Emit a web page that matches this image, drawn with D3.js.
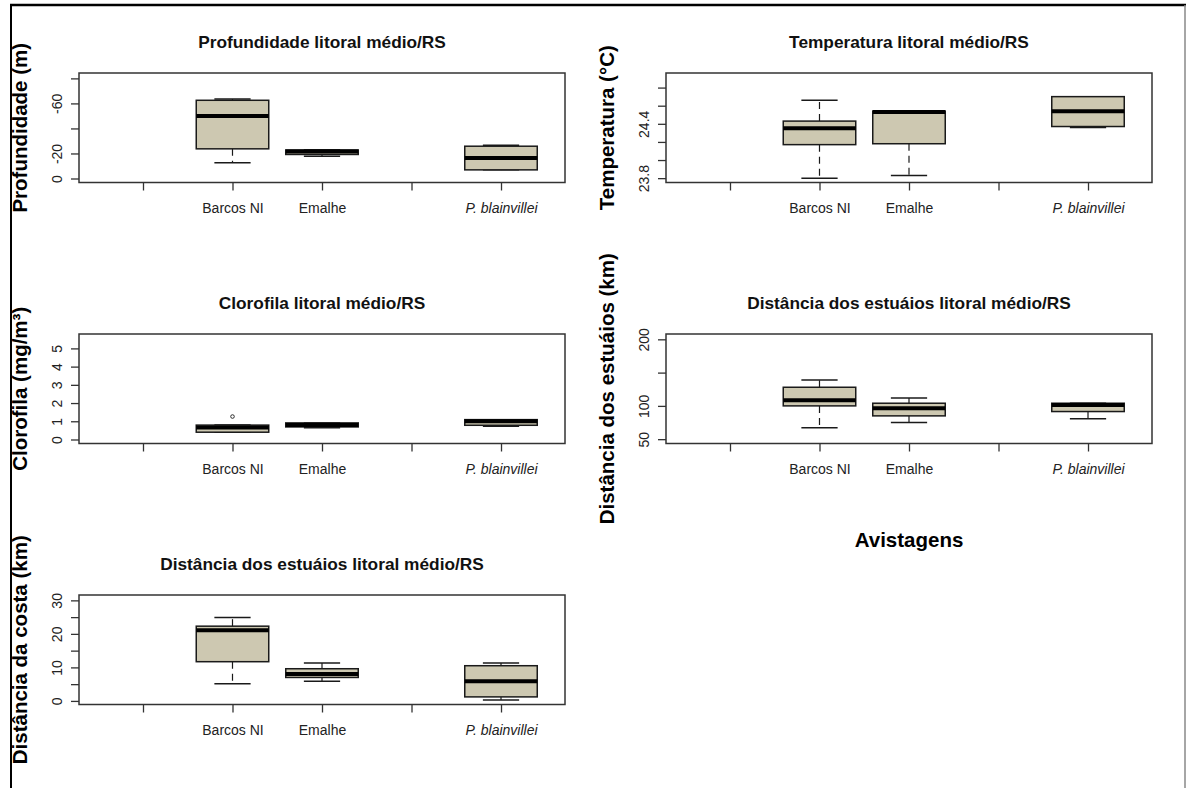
<!DOCTYPE html>
<html>
<head>
<meta charset="utf-8">
<script src="https://cdn.jsdelivr.net/npm/d3@7"></script>
<style>
  html, body { margin: 0; padding: 0; background: #fff; }
  svg { display: block; font-family: "Liberation Sans", Arial, sans-serif; }
</style>
</head>
<body>
<svg id="chart" width="1186" height="788"></svg>
<script>
// ---------- DATA ----------
const categories = ["", "Barcos NI", "Emalhe", "", "P. blainvillei"];
const italicCategories = ["P. blainvillei"];
const groups = ["Barcos NI", "Emalhe", "P. blainvillei"];

// five-number summaries per group: [lower whisker, Q1, median, Q3, upper whisker]
const profundidade = [
  [-63.5, -62.5, -50.0, -23.7, -12.5],
  [-23.0, -22.8, -21.6, -19.2, -17.8],
  [-26.6, -25.8, -16.3, -6.9, -6.9]
];
const temperatura = [
  [23.80, 24.17, 24.35, 24.43, 24.66],
  [23.83, 24.18, 24.53, 24.54, 24.54],
  [24.36, 24.37, 24.54, 24.70, 24.70]
];
const clorofila = [
  [0.40, 0.40, 0.66, 0.79, 0.79],
  [0.64, 0.69, 0.80, 0.91, 0.91],
  [0.73, 0.78, 1.00, 1.09, 1.09]
];
const clorofilaOutliers = [[1.26], [], []];
const estuarios = [
  [67.0, 100.0, 108.5, 128.0, 139.0],
  [75.0, 85.0, 96.5, 104.0, 112.0],
  [80.6, 91.5, 101.5, 104.0, 104.0]
];
const costa = [
  [5.1, 11.7, 21.1, 22.3, 24.9],
  [5.9, 7.0, 8.0, 9.6, 11.3],
  [0.3, 1.2, 5.9, 10.5, 11.3]
];

const profTicks = [0, -20, -40, -60, -80];
const profTickLabels = ["0", "-20", "", "-60", ""];
const tempTicks = [23.8, 24.0, 24.2, 24.4, 24.6, 24.8];
const tempTickLabels = ["23.8", "", "", "24.4", "", ""];
const cloroTicks = [0, 1, 2, 3, 4, 5];
const cloroTickLabels = ["0", "1", "2", "3", "4", "5"];
const estTicks = [50, 100, 150, 200];
const estTickLabels = ["50", "100", "", "200"];
const costaTicks = [0, 5, 10, 15, 20, 25, 30];
const costaTickLabels = ["0", "", "10", "", "20", "", "30"];

const profLim = [3.2, -84.3];
const tempLim = [23.752, 24.961];
const cloroLim = [-0.22, 5.79];
const estLim = [43.5, 208];
const costaLim = [-1.07, 31.6];
const xLim = [0.285, 5.715];

const titles = [
  "Profundidade litoral médio/RS",
  "Temperatura litoral médio/RS",
  "Clorofila litoral médio/RS",
  "Distância dos estuáios litoral médio/RS",
  "Distância dos estuáios litoral médio/RS"
];
const yTitles = [
  "Profundidade (m)",
  "Temperatura (°C)",
  "Clorofila (mg/m³)",
  "Distância dos estuáios (km)",
  "Distância da costa (km)"
];
const xTitle = "Avistagens";

// ---------- LAYOUT ----------
const panels = [
  { col: 0, row: 0, data: profundidade, ticks: profTicks, labels: profTickLabels, lim: profLim, outliers: null, xlab: false },
  { col: 1, row: 0, data: temperatura, ticks: tempTicks, labels: tempTickLabels, lim: tempLim, outliers: null, xlab: false },
  { col: 0, row: 1, data: clorofila, ticks: cloroTicks, labels: cloroTickLabels, lim: cloroLim, outliers: clorofilaOutliers, xlab: false },
  { col: 1, row: 1, data: estuarios, ticks: estTicks, labels: estTickLabels, lim: estLim, outliers: null, xlab: true },
  { col: 0, row: 2, data: costa, ticks: costaTicks, labels: costaTickLabels, lim: costaLim, outliers: null, xlab: false }
];
const colLeft = [79, 666];
const rowTop = [73, 334, 595];
const plotW = 486, plotH = 109.5;
const boxFill = "#CDC8B1";
const ink = "#1a1a1a";

const svg = d3.select("#chart");

// window-like frame
svg.append("line").attr("x1", 10).attr("x2", 1186).attr("y1", 5).attr("y2", 5)
  .attr("stroke", "#000").attr("stroke-width", 2.5);
svg.append("line").attr("x1", 11).attr("x2", 11).attr("y1", 4).attr("y2", 788)
  .attr("stroke", "#000").attr("stroke-width", 2);
svg.append("line").attr("x1", 1185).attr("x2", 1185).attr("y1", 5).attr("y2", 788)
  .attr("stroke", "#888").attr("stroke-width", 1.5);

panels.forEach((p, pi) => {
  const x0 = colLeft[p.col], y0 = rowTop[p.row];
  const g = svg.append("g").attr("transform", `translate(${x0},${y0})`);
  const x = d3.scaleLinear().domain(xLim).range([0, plotW]);
  const y = d3.scaleLinear().domain(p.lim).range([plotH, 0]);
  const bw = x(1.405) - x(1.0);   // half box width (0.81 units total)
  const cw = bw / 2;              // half staple width

  // boxes
  groups.forEach((gname, gi) => {
    const cx = x(categories.indexOf(gname) + 1);
    const [lo, q1, med, q3, hi] = p.data[gi];
    const bg = g.append("g");
    // whiskers (dashed)
    bg.append("line").attr("x1", cx).attr("x2", cx).attr("y1", y(q1)).attr("y2", y(lo))
      .attr("stroke", ink).attr("stroke-width", 1.2).attr("stroke-dasharray", "7,5");
    bg.append("line").attr("x1", cx).attr("x2", cx).attr("y1", y(q3)).attr("y2", y(hi))
      .attr("stroke", ink).attr("stroke-width", 1.2).attr("stroke-dasharray", "7,5");
    // staples
    [lo, hi].forEach(v => {
      bg.append("line").attr("x1", cx - cw).attr("x2", cx + cw).attr("y1", y(v)).attr("y2", y(v))
        .attr("stroke", ink).attr("stroke-width", 1.5);
    });
    // box
    const top = Math.min(y(q1), y(q3)), bot = Math.max(y(q1), y(q3));
    bg.append("rect").attr("x", cx - bw).attr("y", top).attr("width", 2 * bw)
      .attr("height", Math.max(bot - top, 0.5))
      .attr("fill", boxFill).attr("stroke", ink).attr("stroke-width", 1.5);
    // median
    bg.append("line").attr("x1", cx - bw).attr("x2", cx + bw).attr("y1", y(med)).attr("y2", y(med))
      .attr("stroke", "#000").attr("stroke-width", 4);
    // outliers
    if (p.outliers) {
      p.outliers[gi].forEach(v => {
        bg.append("circle").attr("cx", cx).attr("cy", y(v)).attr("r", 1.8)
          .attr("fill", "none").attr("stroke", ink).attr("stroke-width", 0.9);
      });
    }
  });

  // plot frame
  g.append("rect").attr("x", 0).attr("y", 0).attr("width", plotW).attr("height", plotH)
    .attr("fill", "none").attr("stroke", "#333").attr("stroke-width", 1.5);

  // y axis
  const yAxis = d3.axisLeft(y).tickValues(p.ticks).tickSize(8).tickSizeOuter(0)
    .tickFormat((d, i) => p.labels[i]);
  const ya = g.append("g").call(yAxis);
  ya.select(".domain").remove();
  ya.selectAll(".tick line").attr("stroke", "#333").attr("stroke-width", 1.3);
  ya.selectAll(".tick text")
    .attr("transform", "rotate(-90)")
    .attr("x", 0).attr("y", -17).attr("dy", 0)
    .attr("text-anchor", "middle")
    .attr("font-size", 14).attr("fill", "#222")
    .attr("font-family", "'Liberation Sans', Arial, sans-serif");

  // x axis
  const xAxis = d3.axisBottom(x).tickValues(d3.range(1, categories.length + 1))
    .tickSize(8).tickSizeOuter(0).tickFormat(d => categories[d - 1]);
  const xa = g.append("g").attr("transform", `translate(0,${plotH})`).call(xAxis);
  xa.select(".domain").remove();
  xa.selectAll(".tick line").attr("stroke", "#333").attr("stroke-width", 1.3);
  xa.selectAll(".tick text")
    .attr("y", 30.5).attr("dy", 0)
    .attr("font-size", 14).attr("fill", "#222")
    .attr("font-family", "'Liberation Sans', Arial, sans-serif")
    .attr("font-style", d => italicCategories.includes(categories[d - 1]) ? "italic" : "normal");

  // title
  g.append("text").attr("x", plotW / 2).attr("y", -25)
    .attr("text-anchor", "middle").attr("font-size", 17.3).attr("font-weight", "bold")
    .attr("fill", "#111").text(titles[pi]);

  // y title
  g.append("text").attr("transform", `translate(${27 - 79},${plotH / 2}) rotate(-90)`)
    .attr("text-anchor", "middle").attr("font-size", 20.5).attr("font-weight", "bold")
    .attr("fill", "#000").text(yTitles[pi]);

  // x title
  if (p.xlab) {
    g.append("text").attr("x", plotW / 2).attr("y", plotH + 103.5)
      .attr("text-anchor", "middle").attr("font-size", 20.5).attr("font-weight", "bold")
      .attr("fill", "#000").text(xTitle);
  }
});
</script>
</body>
</html>
